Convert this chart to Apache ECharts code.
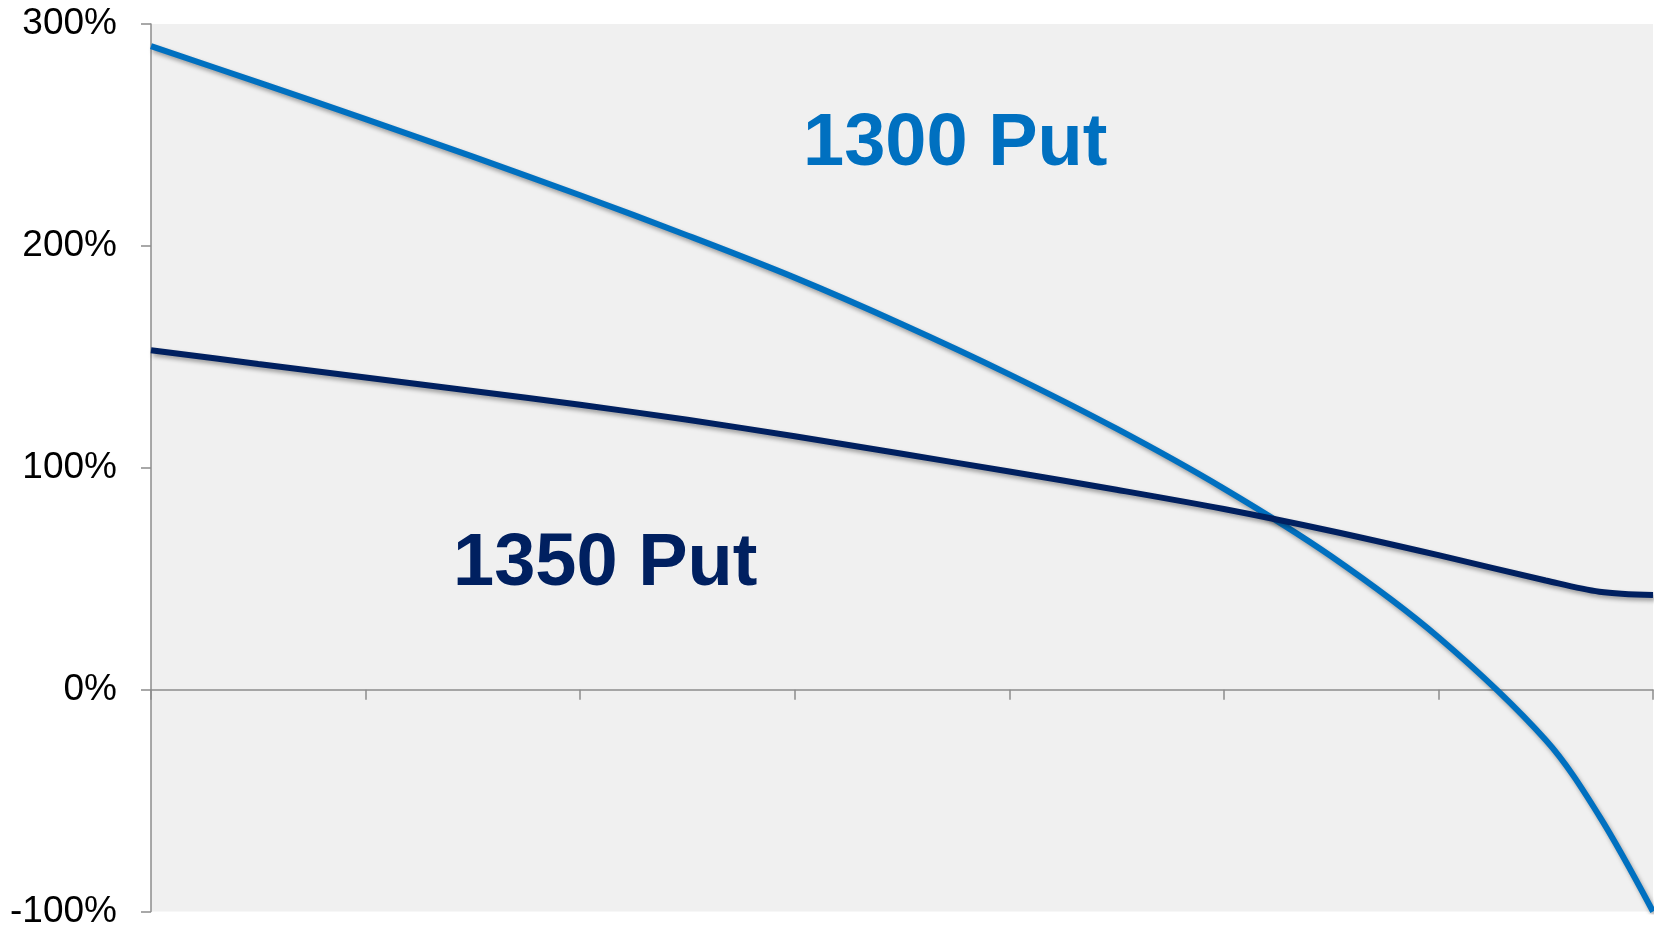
<!DOCTYPE html>
<html>
<head>
<meta charset="utf-8">
<style>
  html, body { margin: 0; padding: 0; background: #fff; }
  #chart { width: 1654px; height: 930px; }
</style>
<script src="https://cdn.jsdelivr.net/npm/echarts@6/dist/echarts.min.js"></script>
</head>
<body>
<div id="chart"></div>
<script>
// x positions along the (unlabelled) horizontal axis, one step per tick
var xSteps = [0, 0.5, 1, 1.5, 2, 2.5, 3, 3.5, 4, 4.5, 5, 5.5, 6, 6.5, 6.75, 7]
// return in %
var put1300 = [290, 273.7, 257.1, 240.2, 222.8, 204.7, 185.7, 164.7, 142.1, 117.6, 90.6, 60.1, 23.6, -22.7, -57, -100]
var put1350 = [153, 146.8, 140.7, 134.6, 128.4, 121.6, 114.2, 106.3, 98.3, 90.1, 81.4, 71.5, 60.6, 49.2, 44.1, 42.6]
var yTicks = [-100, 0, 100, 200, 300]

var font = 'Liberation Sans, Arial, sans-serif'

function pairs(ys) {
  return xSteps.map(function (x, i) { return [x, ys[i]] })
}

function lineStyle(color) {
  return {
    color: color,
    width: 6,
    shadowColor: 'rgba(0,0,0,0.35)',
    shadowBlur: 4,
    shadowOffsetX: 2,
    shadowOffsetY: 3
  }
}

var chart = echarts.init(document.getElementById('chart'))
chart.setOption({
  animation: false,
  textStyle: { fontFamily: font },
  grid: {
    left: 151,
    right: 1,
    top: 24,
    bottom: 15,
    show: true,
    backgroundColor: '#f0f0f0',
    borderWidth: 0
  },
  xAxis: {
    type: 'value',
    min: 0,
    max: 7,
    interval: 1,
    axisLine: { onZero: true, lineStyle: { color: '#8c8c8c', width: 1.5 } },
    axisTick: { show: true, inside: false, length: 10, lineStyle: { color: '#8c8c8c', width: 1.5 } },
    axisLabel: { show: false },
    splitLine: { show: false }
  },
  yAxis: {
    type: 'value',
    min: yTicks[0],
    max: yTicks[yTicks.length - 1],
    interval: 100,
    axisLine: { show: true, lineStyle: { color: '#8c8c8c', width: 1.5 } },
    axisTick: { show: true, length: 10, lineStyle: { color: '#8c8c8c', width: 1.5 } },
    axisLabel: {
      formatter: '{value}%',
      color: '#000',
      fontSize: 37,
      fontFamily: font,
      margin: 34
    },
    splitLine: { show: false }
  },
  series: [
    {
      name: '1300 Put',
      type: 'line',
      data: pairs(put1300),
      smooth: 0.33,
      symbol: 'none',
      lineStyle: lineStyle('#0070c0')
    },
    {
      name: '1350 Put',
      type: 'line',
      data: pairs(put1350),
      smooth: 0.33,
      symbol: 'none',
      lineStyle: lineStyle('#002060')
    }
  ],
  graphic: [
    {
      type: 'text',
      left: 803,
      top: 108,
      style: { text: '1300 Put', fill: '#0070c0', font: 'bold 74px ' + font }
    },
    {
      type: 'text',
      left: 453,
      top: 528,
      style: { text: '1350 Put', fill: '#002060', font: 'bold 74px ' + font }
    }
  ]
})
</script>
</body>
</html>
